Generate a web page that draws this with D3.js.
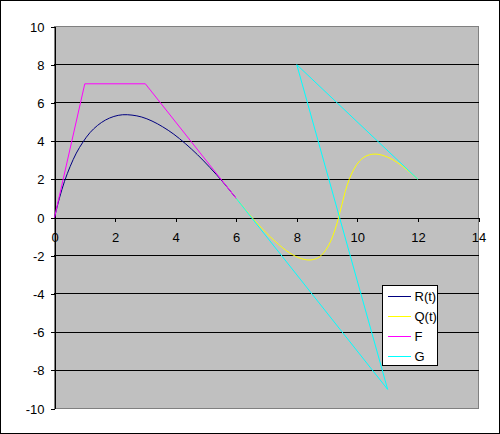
<!DOCTYPE html>
<html>
<head>
<meta charset="utf-8">
<script src="https://cdn.jsdelivr.net/npm/d3@7"></script>
<style>
	body { margin: 0; background: #fff; }
	svg { display: block; font-family: Arial, 'Liberation Sans', sans-serif; }
</style>
</head>
<body>
<svg id="canvas"></svg>
<script>
// series R(t): curve points (x, y)
const rX = [0, 0.16, 0.33, 0.52, 0.72, 0.94, 1.17, 1.42, 1.68, 1.96, 2.25, 2.56, 2.88, 3.22, 3.57, 3.94, 4.32, 4.72, 5.13, 5.56, 6];
const rY = [0, 1.0, 1.89, 2.68, 3.37, 3.95, 4.44, 4.82, 5.1, 5.29, 5.38, 5.36, 5.26, 5.05, 4.75, 4.36, 3.87, 3.29, 2.62, 1.86, 1];
// series Q(t)
const qX = [6, 6.69, 7.28, 7.76, 8.16, 8.48, 8.75, 8.95, 9.12, 9.26, 9.38, 9.49, 9.6, 9.73, 9.89, 10.08, 10.32, 10.62, 11.0, 11.45, 12];
const qY = [1, -0.3, -1.24, -1.85, -2.16, -2.22, -2.06, -1.72, -1.24, -0.65, 0, 0.68, 1.36, 1.99, 2.54, 2.97, 3.24, 3.32, 3.16, 2.73, 2];
// series F (polygon)
const fX = [0, 1, 3, 6];
const fY = [0, 7, 7, 1];
// series G (polygon)
const gX = [6, 11, 8, 12];
const gY = [1, -9, 8, 2];

const seriesNames = ['R(t)', 'Q(t)', 'F', 'G'];
const seriesColors = ['#000080', '#FFFF00', '#FF00FF', '#00FFFF'];
const xTicks = [0, 2, 4, 6, 8, 10, 12, 14];
const yTicks = [-10, -8, -6, -4, -2, 0, 2, 4, 6, 8, 10];

const w = 500;
const h = 434;
const plot = { left: 54, top: 26, right: 478, bottom: 408 };

const svg = d3.select('#canvas').attr('width', w).attr('height', h);

// outer chart border
svg.append('rect')
	.attr('x', 0.5).attr('y', 0.5)
	.attr('width', w - 1).attr('height', h - 1)
	.attr('fill', '#fff').attr('stroke', '#000');

const xScale = d3.scaleLinear().domain([0, 14]).range([plot.left, plot.right]);
const yScale = d3.scaleLinear().domain([-10, 10]).range([plot.bottom, plot.top]);

// plot area
svg.append('rect')
	.attr('x', plot.left + 0.5).attr('y', plot.top + 0.5)
	.attr('width', plot.right - plot.left).attr('height', plot.bottom - plot.top)
	.attr('fill', '#C0C0C0').attr('stroke', '#808080');

// gridlines
svg.append('g')
	.selectAll('line')
	.data(yTicks.filter((d) => d !== -10 && d !== 10 && d !== 0))
	.enter()
	.append('line')
	.attr('x1', plot.left).attr('x2', plot.right + 0.5)
	.attr('y1', (d) => Math.round(yScale(d)) + 0.5)
	.attr('y2', (d) => Math.round(yScale(d)) + 0.5)
	.attr('stroke', '#000')
	.attr('shape-rendering', 'crispEdges');

const xAxis = d3.axisBottom(xScale).tickValues(xTicks).tickSize(4).tickSizeOuter(0).tickFormat((d) => String(d));
const yAxis = d3.axisLeft(yScale).tickValues(yTicks).tickSize(4).tickSizeOuter(0).tickFormat((d) => String(d));

const gx = svg.append('g')
	.attr('id', 'x-axis')
	.attr('transform', 'translate(0.5,' + (Math.round(yScale(0)) + 0.5) + ')')
	.call(xAxis);
const gy = svg.append('g')
	.attr('id', 'y-axis')
	.attr('transform', 'translate(' + (plot.left + 0.5) + ',0.5)')
	.call(yAxis);

[gx, gy].forEach((g) => {
	g.selectAll('path, line').attr('stroke', '#000').attr('shape-rendering', 'crispEdges');
	g.selectAll('text').attr('fill', '#000').style('font-size', '13px').style('font-family', "Arial, 'Liberation Sans', sans-serif");
});
gx.selectAll('text').attr('dy', null).attr('y', 24);
gy.selectAll('text').attr('x', -10).attr('dy', '0.36em');

// series
const allX = [rX, qX, fX, gX];
const allY = [rY, qY, fY, gY];
const line = d3.line()
	.x((d) => xScale(d[0]) + 0.5)
	.y((d) => yScale(d[1]) + 0.5);

seriesNames.forEach((name, i) => {
	const pts = allX[i].map((x, k) => [x, allY[i][k]]);
	svg.append('path')
		.datum(pts)
		.attr('class', 'series')
		.attr('d', line.curve(i < 2 ? d3.curveCatmullRom.alpha(0.5) : d3.curveLinear))
		.attr('fill', 'none')
		.attr('stroke', seriesColors[i])
		.attr('stroke-width', 1);
});

// legend
const legend = svg.append('g').attr('transform', 'translate(382.5,285.5)');
legend.append('rect')
	.attr('width', 55).attr('height', 80)
	.attr('fill', '#fff').attr('stroke', '#000')
	.attr('shape-rendering', 'crispEdges');
seriesNames.forEach((name, i) => {
	const yy = 11 + i * 20;
	legend.append('line')
		.attr('x1', 5).attr('x2', 28)
		.attr('y1', yy).attr('y2', yy)
		.attr('stroke', seriesColors[i])
		.attr('stroke-width', 1)
		.attr('shape-rendering', 'crispEdges');
	legend.append('text')
		.attr('x', 32).attr('y', yy)
		.attr('dy', '0.36em')
		.style('font-size', '13px')
		.text(name);
});
</script>
</body>
</html>
